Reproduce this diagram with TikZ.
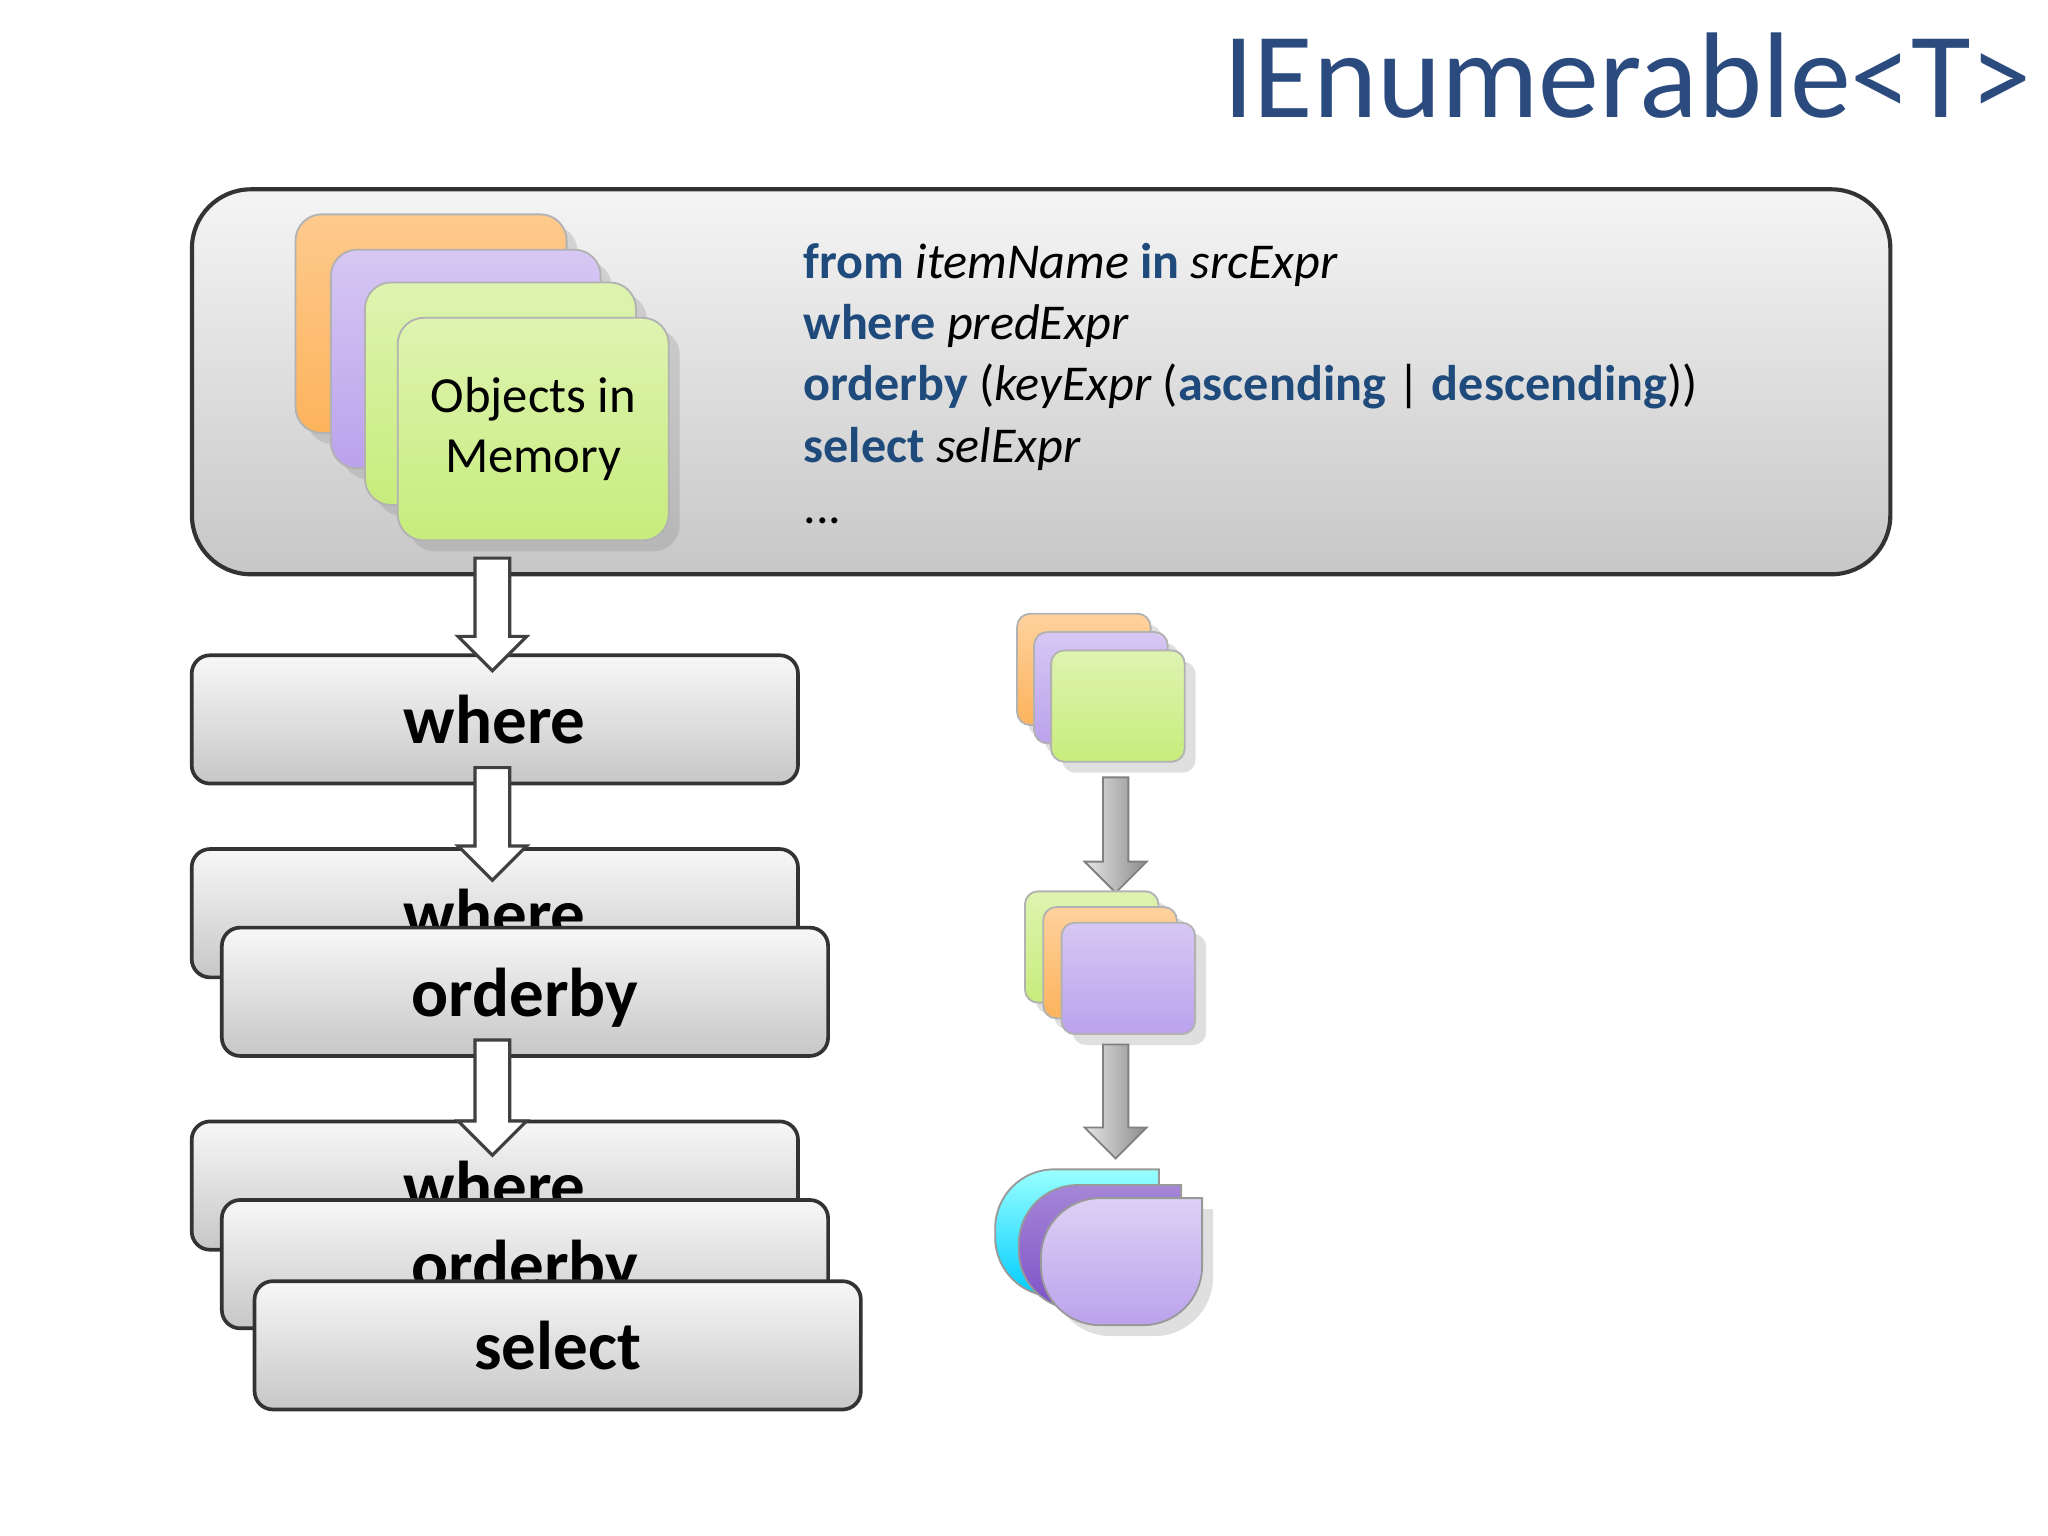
\documentclass[tikz,border=0pt]{standalone}
\usepackage{fontspec}
\setmainfont{Carlito}
\usetikzlibrary{shapes.arrows,shadows}
\definecolor{qblue}{HTML}{1F4A7C}
\definecolor{ttlblue}{HTML}{2B4B7E}
\definecolor{cardor}{HTML}{FDB35C}
\definecolor{cardpu}{HTML}{BBA2EC}
\definecolor{cardgr}{HTML}{C8EC7C}
\definecolor{dropvi}{HTML}{7E52C6}
\tikzset{
  panel/.style={draw=black!80,line width=0.9pt,rounded corners=0.45cm,top color=black!4,bottom color=black!22,anchor=north west},
  opbox/.style={draw=black!80,line width=0.8pt,rounded corners=0.14cm,top color=black!3,bottom color=black!22,anchor=north west,
    minimum width=4.63cm,minimum height=0.98cm,font=\fontsize{15}{17}\selectfont\bfseries,text depth=0pt},
  card/.style={rounded corners=#1,draw=white!70!black,line width=0.4pt,anchor=north west,drop shadow={opacity=0.25}},
  flow/.style={single arrow,draw=black!75,fill=white,rotate=-90,line width=0.7pt,inner sep=0.12cm,single arrow head extend=0.13cm,single arrow head indent=0pt,anchor=tail},
  mini/.style={single arrow,draw=black!50,top color=black!10,bottom color=black!45,shading angle=90,rotate=-90,inner sep=0.09cm,single arrow head extend=0.14cm,anchor=tail}
}
\begin{document}
\begin{tikzpicture}
\useasboundingbox (0,0) rectangle (15.64,-11.73);
\fill[white] (0,0) rectangle (15.64,-11.73);
% title
\node[anchor=base east,text=ttlblue,font=\fontsize{26.5}{30}\selectfont] (title) at (15.64,-0.9) {IEnumerable<T>};
% query panel
\node[panel,minimum width=12.97cm,minimum height=2.94cm] (panel) at (1.45,-1.43) {};
\node[card=0.2cm,top color=cardor!70!white,bottom color=cardor,minimum width=2.07cm,minimum height=1.67cm] (c1) at (2.25,-1.63) {};
\node[card=0.2cm,top color=cardpu!60!white,bottom color=cardpu,minimum width=2.06cm,minimum height=1.67cm] (c2) at (2.52,-1.90) {};
\node[card=0.2cm,top color=cardgr!60!white,bottom color=cardgr,minimum width=2.07cm,minimum height=1.70cm] (c3) at (2.78,-2.15) {};
\node[card=0.2cm,top color=cardgr!60!white,bottom color=cardgr,minimum width=2.07cm,minimum height=1.70cm,align=center,font=\fontsize{11}{13}\selectfont] (mem) at (3.03,-2.42) {Objects in\\Memory};
\begin{scope}[every node/.style={anchor=base west,font=\fontsize{10.9}{12}\selectfont,inner sep=0pt}]
\node (q1) at (6.13,-2.13) {{\bfseries\color{qblue}from} \textit{itemName} {\bfseries\color{qblue}in} \textit{srcExpr}};
\node (q2) at (6.13,-2.59) {{\bfseries\color{qblue}where} \textit{predExpr}};
\node (q3) at (6.13,-3.06) {{\bfseries\color{qblue}orderby} (\textit{keyExpr} ({\bfseries\color{qblue}ascending} | {\bfseries\color{qblue}descending}))};
\node (q4) at (6.13,-3.53) {{\bfseries\color{qblue}select} \textit{selExpr}};
\node (q5) at (6.13,-4.00) {...};
\end{scope}
% operator chain
\node[opbox] (w1) at (1.45,-4.99) {where};
\node[flow,minimum height=0.86cm] (a1) at (3.76,-4.25) {};
\node[opbox] (w2) at (1.45,-6.47) {where};
\node[flow,minimum height=0.86cm] (a2) at (3.76,-5.85) {};
\node[opbox] (o2) at (1.68,-7.07) {orderby};
\node[opbox] (w3) at (1.45,-8.55) {where};
\node[flow,minimum height=0.88cm] (a3) at (3.76,-7.93) {};
\node[opbox] (o3) at (1.68,-9.15) {orderby};
\node[opbox] (s3) at (1.93,-9.77) {select};
% result shapes
\node[card=0.1cm,top color=cardor!60!white,bottom color=cardor,minimum width=1.02cm,minimum height=0.85cm] (r1a) at (7.76,-4.68) {};
\node[card=0.1cm,top color=cardpu!60!white,bottom color=cardpu,minimum width=1.02cm,minimum height=0.85cm] (r1b) at (7.89,-4.82) {};
\node[card=0.1cm,top color=cardgr!60!white,bottom color=cardgr,minimum width=1.02cm,minimum height=0.85cm] (r1c) at (8.02,-4.96) {};
\node[mini,minimum height=0.88cm] (m1) at (8.52,-5.93) {};
\node[card=0.1cm,top color=cardgr!60!white,bottom color=cardgr,minimum width=1.02cm,minimum height=0.85cm] (r2a) at (7.82,-6.80) {};
\node[card=0.1cm,top color=cardor!60!white,bottom color=cardor,minimum width=1.02cm,minimum height=0.85cm] (r2b) at (7.96,-6.92) {};
\node[card=0.1cm,top color=cardpu!60!white,bottom color=cardpu,minimum width=1.02cm,minimum height=0.85cm] (r2c) at (8.10,-7.04) {};
\node[mini,minimum height=0.87cm] (m2) at (8.52,-7.97) {};
\draw[white!60!black,line width=0.4pt,top color=cyan!40,bottom color=cyan!80!blue] (8.85,-8.93) {[rounded corners=0.45cm] -- (8.85,-9.90) -- (7.60,-9.90) -- (7.60,-8.93)} -- cycle;
\draw[white!60!black,line width=0.4pt,top color=dropvi!70!white,bottom color=dropvi] (9.02,-9.05) {[rounded corners=0.45cm] -- (9.02,-10.00) -- (7.78,-10.00) -- (7.78,-9.05)} -- cycle;
\draw[white!60!black,line width=0.4pt,top color=cardpu!50!white,bottom color=cardpu,drop shadow={opacity=0.25}] (9.18,-9.15) {[rounded corners=0.45cm] -- (9.18,-10.12) -- (7.95,-10.12) -- (7.95,-9.15)} -- cycle;
\end{tikzpicture}
\end{document}
